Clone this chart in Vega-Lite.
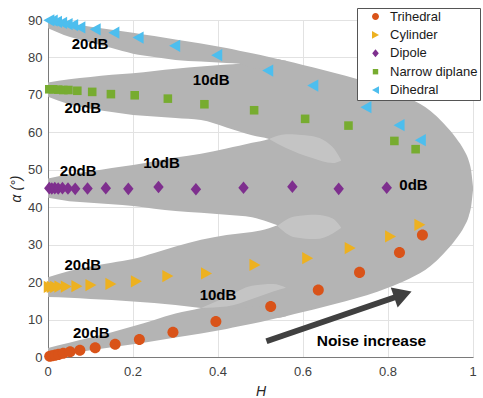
{
  "$schema": "https://vega.github.io/schema/vega-lite/v6.json",
  "width": 425,
  "height": 337,
  "autosize": {"type": "none"},
  "padding": {"left": 48, "top": 20, "right": 10, "bottom": 41},
  "background": "white",
  "config": {
    "font": "Liberation Sans",
    "view": {"stroke": null},
    "axis": {
      "grid": true,
      "gridColor": "#e2e2e2",
      "gridWidth": 1,
      "ticks": false,
      "domainColor": "#7a7a7a",
      "domainWidth": 1,
      "labelColor": "#404040",
      "labelFontSize": 13,
      "labelFont": "Liberation Sans",
      "labelFlush": false,
      "labelOverlap": false,
      "titleFont": "Liberation Sans",
      "titleFontWeight": "normal",
      "titleFontStyle": "italic",
      "titleFontSize": 14,
      "titleColor": "#262626"
    }
  },
  "datasets": {
    "bands": [
      {"H": 0, "lo": 0, "hi": 2.4, "band": "b1"},
      {"H": 0.05, "lo": 0.9, "hi": 3.8, "band": "b1"},
      {"H": 0.1, "lo": 1.8, "hi": 5.2, "band": "b1"},
      {"H": 0.15, "lo": 2.6, "hi": 6.6, "band": "b1"},
      {"H": 0.2, "lo": 3.4, "hi": 8.2, "band": "b1"},
      {"H": 0.25, "lo": 4.3, "hi": 9.9, "band": "b1"},
      {"H": 0.3, "lo": 5.2, "hi": 11.6, "band": "b1"},
      {"H": 0.36, "lo": 6.3, "hi": 13.1, "band": "b1"},
      {"H": 0.42, "lo": 7.5, "hi": 14.8, "band": "b1"},
      {"H": 0.45, "lo": 8.2, "hi": 15.1, "band": "b1"},
      {"H": 0.48, "lo": 8.9, "hi": 15.4, "band": "b1"},
      {"H": 0.52, "lo": 9.9, "hi": 15.8, "band": "b1"},
      {"H": 0.54, "lo": 10.4, "hi": 16.0, "band": "b1"},
      {"H": 0.56, "lo": 10.9, "hi": 16.2, "band": "b1"},
      {"H": 0, "lo": 16.0, "hi": 21.3, "band": "b2"},
      {"H": 0.05, "lo": 15.8, "hi": 23.0, "band": "b2"},
      {"H": 0.1, "lo": 15.5, "hi": 24.2, "band": "b2"},
      {"H": 0.15, "lo": 15.2, "hi": 25.2, "band": "b2"},
      {"H": 0.2, "lo": 14.8, "hi": 26.2, "band": "b2"},
      {"H": 0.25, "lo": 14.4, "hi": 27.8, "band": "b2"},
      {"H": 0.3, "lo": 13.9, "hi": 29.5, "band": "b2"},
      {"H": 0.36, "lo": 13.1, "hi": 31.3, "band": "b2"},
      {"H": 0.42, "lo": 12.8, "hi": 32.6, "band": "b2"},
      {"H": 0.45, "lo": 13.1, "hi": 33.0, "band": "b2"},
      {"H": 0.48, "lo": 13.4, "hi": 33.4, "band": "b2"},
      {"H": 0.52, "lo": 13.8, "hi": 34.4, "band": "b2"},
      {"H": 0.54, "lo": 14.0, "hi": 35.2, "band": "b2"},
      {"H": 0.56, "lo": 14.2, "hi": 36.3, "band": "b2"},
      {"H": 0, "lo": 42.5, "hi": 47.7, "band": "b3"},
      {"H": 0.05, "lo": 41.6, "hi": 48.8, "band": "b3"},
      {"H": 0.1, "lo": 41.2, "hi": 49.6, "band": "b3"},
      {"H": 0.15, "lo": 40.8, "hi": 50.5, "band": "b3"},
      {"H": 0.2, "lo": 40.3, "hi": 51.3, "band": "b3"},
      {"H": 0.25, "lo": 39.6, "hi": 52.3, "band": "b3"},
      {"H": 0.3, "lo": 39.0, "hi": 53.3, "band": "b3"},
      {"H": 0.36, "lo": 38.5, "hi": 54.3, "band": "b3"},
      {"H": 0.42, "lo": 38.0, "hi": 55.7, "band": "b3"},
      {"H": 0.45, "lo": 37.7, "hi": 56.4, "band": "b3"},
      {"H": 0.48, "lo": 37.3, "hi": 57.2, "band": "b3"},
      {"H": 0.52, "lo": 36.0, "hi": 58.2, "band": "b3"},
      {"H": 0.54, "lo": 35.2, "hi": 59.3, "band": "b3"},
      {"H": 0.56, "lo": 34.3, "hi": 59.4, "band": "b3"},
      {"H": 0, "lo": 69.5, "hi": 73.3, "band": "b4"},
      {"H": 0.05, "lo": 67.5, "hi": 74.2, "band": "b4"},
      {"H": 0.1, "lo": 66.3, "hi": 74.8, "band": "b4"},
      {"H": 0.15, "lo": 65.4, "hi": 75.4, "band": "b4"},
      {"H": 0.2, "lo": 64.6, "hi": 75.8, "band": "b4"},
      {"H": 0.25, "lo": 64.2, "hi": 76.4, "band": "b4"},
      {"H": 0.3, "lo": 63.8, "hi": 77.0, "band": "b4"},
      {"H": 0.36, "lo": 63.3, "hi": 77.6, "band": "b4"},
      {"H": 0.42, "lo": 61.3, "hi": 78.1, "band": "b4"},
      {"H": 0.45, "lo": 60.2, "hi": 78.3, "band": "b4"},
      {"H": 0.48, "lo": 59.2, "hi": 79.1, "band": "b4"},
      {"H": 0.52, "lo": 58.2, "hi": 78.9, "band": "b4"},
      {"H": 0.54, "lo": 57.3, "hi": 78.8, "band": "b4"},
      {"H": 0.56, "lo": 57.4, "hi": 78.6, "band": "b4"},
      {"H": 0, "lo": 87.8, "hi": 90, "band": "b5"},
      {"H": 0.05, "lo": 85.5, "hi": 89.1, "band": "b5"},
      {"H": 0.1, "lo": 84.0, "hi": 88.2, "band": "b5"},
      {"H": 0.15, "lo": 82.5, "hi": 87.4, "band": "b5"},
      {"H": 0.2, "lo": 81.0, "hi": 86.6, "band": "b5"},
      {"H": 0.25, "lo": 80.1, "hi": 85.7, "band": "b5"},
      {"H": 0.3, "lo": 79.3, "hi": 84.8, "band": "b5"},
      {"H": 0.36, "lo": 78.9, "hi": 83.7, "band": "b5"},
      {"H": 0.42, "lo": 78.5, "hi": 82.5, "band": "b5"},
      {"H": 0.45, "lo": 78.3, "hi": 81.8, "band": "b5"},
      {"H": 0.48, "lo": 77.1, "hi": 81.1, "band": "b5"},
      {"H": 0.52, "lo": 76.9, "hi": 80.1, "band": "b5"},
      {"H": 0.54, "lo": 76.8, "hi": 79.6, "band": "b5"},
      {"H": 0.56, "lo": 76.6, "hi": 79.1, "band": "b5"},
      {"H": 0.54, "lo": 10.4, "hi": 79.6, "band": "main"},
      {"H": 0.56, "lo": 10.9, "hi": 79.1, "band": "main"},
      {"H": 0.6, "lo": 12.0, "hi": 78.0, "band": "main"},
      {"H": 0.65, "lo": 13.4, "hi": 76.6, "band": "main"},
      {"H": 0.7, "lo": 14.9, "hi": 75.1, "band": "main"},
      {"H": 0.75, "lo": 16.5, "hi": 73.5, "band": "main"},
      {"H": 0.8, "lo": 18.5, "hi": 71.5, "band": "main"},
      {"H": 0.85, "lo": 20.9, "hi": 69.1, "band": "main"},
      {"H": 0.9, "lo": 24.3, "hi": 65.7, "band": "main"},
      {"H": 0.93, "lo": 27.5, "hi": 62.5, "band": "main"},
      {"H": 0.96, "lo": 31.5, "hi": 58.5, "band": "main"},
      {"H": 0.98, "lo": 35.0, "hi": 55.0, "band": "main"},
      {"H": 0.99, "lo": 37.6, "hi": 52.4, "band": "main"},
      {"H": 0.996, "lo": 40.5, "hi": 49.5, "band": "main"},
      {"H": 1.0, "lo": 44.5, "hi": 45.5, "band": "main"}
    ],
    "tails": [
      {"H": 0.36, "lo": 13.1, "hi": 13.1, "band": "tA"},
      {"H": 0.42, "lo": 13.5, "hi": 16.0, "band": "tA"},
      {"H": 0.48, "lo": 15.5, "hi": 19.0, "band": "tA"},
      {"H": 0.53, "lo": 17.5, "hi": 19.5, "band": "tA"},
      {"H": 0.56, "lo": 18.5, "hi": 18.5, "band": "tA"},
      {"H": 0.54, "lo": 35.0, "hi": 35.0, "band": "tB"},
      {"H": 0.58, "lo": 32.0, "hi": 37.5, "band": "tB"},
      {"H": 0.63, "lo": 31.5, "hi": 38.0, "band": "tB"},
      {"H": 0.67, "lo": 33.0, "hi": 37.0, "band": "tB"},
      {"H": 0.69, "lo": 34.5, "hi": 34.5, "band": "tB"},
      {"H": 0.52, "lo": 58.2, "hi": 58.2, "band": "tC"},
      {"H": 0.56, "lo": 55.8, "hi": 59.5, "band": "tC"},
      {"H": 0.62, "lo": 53.2, "hi": 59.0, "band": "tC"},
      {"H": 0.67, "lo": 51.8, "hi": 56.0, "band": "tC"},
      {"H": 0.69, "lo": 52.5, "hi": 52.5, "band": "tC"}
    ],
    "points": [
      {"H": 0.004, "a": 0.2, "type": "Trihedral"},
      {"H": 0.01, "a": 0.35, "type": "Trihedral"},
      {"H": 0.017, "a": 0.5, "type": "Trihedral"},
      {"H": 0.025, "a": 0.7, "type": "Trihedral"},
      {"H": 0.036, "a": 1.0, "type": "Trihedral"},
      {"H": 0.052, "a": 1.4, "type": "Trihedral"},
      {"H": 0.075, "a": 1.8, "type": "Trihedral"},
      {"H": 0.111, "a": 2.5, "type": "Trihedral"},
      {"H": 0.158, "a": 3.4, "type": "Trihedral"},
      {"H": 0.215, "a": 4.7, "type": "Trihedral"},
      {"H": 0.294, "a": 6.6, "type": "Trihedral"},
      {"H": 0.395, "a": 9.5, "type": "Trihedral"},
      {"H": 0.524, "a": 13.5, "type": "Trihedral"},
      {"H": 0.636, "a": 17.9, "type": "Trihedral"},
      {"H": 0.733, "a": 22.6, "type": "Trihedral"},
      {"H": 0.827, "a": 27.9, "type": "Trihedral"},
      {"H": 0.881, "a": 32.6, "type": "Trihedral"},
      {"H": 0.003, "a": 18.7, "type": "Cylinder"},
      {"H": 0.01, "a": 18.7, "type": "Cylinder"},
      {"H": 0.018, "a": 18.7, "type": "Cylinder"},
      {"H": 0.028, "a": 18.8, "type": "Cylinder"},
      {"H": 0.043, "a": 18.8, "type": "Cylinder"},
      {"H": 0.068, "a": 18.9, "type": "Cylinder"},
      {"H": 0.101, "a": 19.2, "type": "Cylinder"},
      {"H": 0.148, "a": 19.5, "type": "Cylinder"},
      {"H": 0.208, "a": 20.2, "type": "Cylinder"},
      {"H": 0.282, "a": 21.6, "type": "Cylinder"},
      {"H": 0.373, "a": 22.3, "type": "Cylinder"},
      {"H": 0.487, "a": 24.6, "type": "Cylinder"},
      {"H": 0.611, "a": 26.4, "type": "Cylinder"},
      {"H": 0.711, "a": 29.1, "type": "Cylinder"},
      {"H": 0.806, "a": 32.2, "type": "Cylinder"},
      {"H": 0.875, "a": 35.3, "type": "Cylinder"},
      {"H": 0.003, "a": 45.1, "type": "Dipole"},
      {"H": 0.009, "a": 45.0, "type": "Dipole"},
      {"H": 0.016, "a": 45.1, "type": "Dipole"},
      {"H": 0.024, "a": 45.0, "type": "Dipole"},
      {"H": 0.034, "a": 45.1, "type": "Dipole"},
      {"H": 0.047, "a": 45.0, "type": "Dipole"},
      {"H": 0.064, "a": 44.9, "type": "Dipole"},
      {"H": 0.093, "a": 45.0, "type": "Dipole"},
      {"H": 0.136, "a": 45.1, "type": "Dipole"},
      {"H": 0.189, "a": 44.9, "type": "Dipole"},
      {"H": 0.26, "a": 45.4, "type": "Dipole"},
      {"H": 0.348, "a": 44.8, "type": "Dipole"},
      {"H": 0.46, "a": 45.2, "type": "Dipole"},
      {"H": 0.575, "a": 45.5, "type": "Dipole"},
      {"H": 0.684, "a": 44.9, "type": "Dipole"},
      {"H": 0.797, "a": 45.2, "type": "Dipole"},
      {"H": 0.003, "a": 71.5, "type": "Narrow diplane"},
      {"H": 0.012, "a": 71.5, "type": "Narrow diplane"},
      {"H": 0.024, "a": 71.4, "type": "Narrow diplane"},
      {"H": 0.036, "a": 71.3, "type": "Narrow diplane"},
      {"H": 0.048, "a": 71.3, "type": "Narrow diplane"},
      {"H": 0.069, "a": 71.1, "type": "Narrow diplane"},
      {"H": 0.104, "a": 70.8, "type": "Narrow diplane"},
      {"H": 0.148, "a": 70.2, "type": "Narrow diplane"},
      {"H": 0.204, "a": 69.9, "type": "Narrow diplane"},
      {"H": 0.282, "a": 69.0, "type": "Narrow diplane"},
      {"H": 0.368, "a": 67.5, "type": "Narrow diplane"},
      {"H": 0.485, "a": 65.9, "type": "Narrow diplane"},
      {"H": 0.605, "a": 63.6, "type": "Narrow diplane"},
      {"H": 0.707, "a": 61.8, "type": "Narrow diplane"},
      {"H": 0.815, "a": 57.7, "type": "Narrow diplane"},
      {"H": 0.865, "a": 55.5, "type": "Narrow diplane"},
      {"H": 0.002, "a": 89.9, "type": "Dihedral"},
      {"H": 0.01, "a": 89.8, "type": "Dihedral"},
      {"H": 0.02, "a": 89.5, "type": "Dihedral"},
      {"H": 0.032, "a": 89.2, "type": "Dihedral"},
      {"H": 0.045, "a": 88.9, "type": "Dihedral"},
      {"H": 0.058, "a": 88.6, "type": "Dihedral"},
      {"H": 0.075, "a": 88.0, "type": "Dihedral"},
      {"H": 0.111, "a": 87.5, "type": "Dihedral"},
      {"H": 0.155, "a": 86.6, "type": "Dihedral"},
      {"H": 0.212, "a": 85.3, "type": "Dihedral"},
      {"H": 0.298, "a": 83.1, "type": "Dihedral"},
      {"H": 0.397, "a": 80.6, "type": "Dihedral"},
      {"H": 0.517, "a": 76.5, "type": "Dihedral"},
      {"H": 0.623, "a": 72.5, "type": "Dihedral"},
      {"H": 0.748, "a": 66.7, "type": "Dihedral"},
      {"H": 0.826, "a": 61.9, "type": "Dihedral"},
      {"H": 0.876, "a": 57.9, "type": "Dihedral"}
    ],
    "labels": [
      {"H": 0.099, "a": 83.6, "label": "20dB"},
      {"H": 0.384, "a": 74.0, "label": "10dB"},
      {"H": 0.082, "a": 66.4, "label": "20dB"},
      {"H": 0.071, "a": 49.7, "label": "20dB"},
      {"H": 0.267, "a": 51.9, "label": "10dB"},
      {"H": 0.86, "a": 46.0, "label": "0dB"},
      {"H": 0.082, "a": 24.6, "label": "20dB"},
      {"H": 0.4, "a": 16.5, "label": "10dB"},
      {"H": 0.102, "a": 6.3, "label": "20dB"}
    ],
    "note": [
      {"H": 0.761, "a": 4.2, "label": "Noise increase"}
    ],
    "xticks": [
      {"H": 0, "label": "0"},
      {"H": 0.2, "label": "0.2"},
      {"H": 0.4, "label": "0.4"},
      {"H": 0.6, "label": "0.6"},
      {"H": 0.8, "label": "0.8"},
      {"H": 1, "label": "1"}
    ],
    "arrow": [
      {"H1": 0.514, "a1": 4.2, "H2": 0.82, "a2": 16.1}
    ],
    "head": [
      {"H": 0.835, "a": 16.7}
    ]
  },
  "layer": [
    {
      "data": {"name": "bands"},
      "mark": {"type": "area", "color": "#b4b4b4", "opacity": 1, "interpolate": "monotone"},
      "encoding": {
        "x": {
          "field": "H", "type": "quantitative",
          "scale": {"domain": [0, 1], "nice": false, "zero": false},
          "axis": {
            "title": "H",
            "tickCount": 5,
            "labels": false,
            "titleY": 34,
            "titleBaseline": "middle"
          }
        },
        "y": {
          "field": "lo", "type": "quantitative",
          "scale": {"domain": [0, 90], "nice": false, "zero": false},
          "axis": {
            "title": "α (°)",
            "tickCount": 9,
            "labelOverlap": false,
            "labelPadding": 6,
            "titleX": -32,
            "titleY": 168.5,
            "titleBaseline": "middle",
            "titleAlign": "center",
            "titleAngle": 270
          }
        },
        "y2": {"field": "hi"},
        "detail": {"field": "band", "type": "nominal"}
      }
    },
    {
      "data": {"name": "tails"},
      "mark": {"type": "area", "color": "white", "opacity": 0.22, "interpolate": "monotone"},
      "encoding": {
        "x": {"field": "H", "type": "quantitative"},
        "y": {"field": "lo", "type": "quantitative"},
        "y2": {"field": "hi"},
        "detail": {"field": "band", "type": "nominal"}
      }
    },
    {
      "data": {"name": "xticks"},
      "mark": {"type": "text", "font": "Liberation Sans", "fontSize": 13, "color": "#404040", "align": "center", "baseline": "middle", "dy": 15},
      "encoding": {
        "x": {"field": "H", "type": "quantitative"},
        "y": {"datum": 0, "type": "quantitative"},
        "text": {"field": "label"}
      }
    },
    {
      "data": {"name": "points"},
      "mark": {"type": "point", "filled": true, "opacity": 1, "strokeWidth": 0, "size": 150},
      "encoding": {
        "x": {"field": "H", "type": "quantitative"},
        "y": {"field": "a", "type": "quantitative"},
        "color": {
          "field": "type", "type": "nominal",
          "scale": {
            "domain": ["Trihedral", "Cylinder", "Dipole", "Narrow diplane", "Dihedral"],
            "range": ["#D95319", "#EDB120", "#7E2F8E", "#77AC30", "#4DBEEE"]
          },
          "legend": {
            "title": null,
            "orient": "none",
            "legendX": 309,
            "legendY": -12,
            "padding": 2,
            "symbolOffset": 10,
            "labelOffset": 8,
            "rowPadding": 4.4,
            "labelFontSize": 13,
            "labelFont": "Liberation Sans",
            "labelColor": "#1a1a1a",
            "symbolSize": 60,
            "symbolStrokeWidth": 0,
            "fillColor": "white",
            "strokeColor": "#555555"
          }
        },
        "shape": {
          "field": "type", "type": "nominal",
          "scale": {
            "domain": ["Trihedral", "Cylinder", "Dipole", "Narrow diplane", "Dihedral"],
            "range": [
              "M0.9,0A0.9,0.9,0,1,1,-0.9,0A0.9,0.9,0,1,1,0.9,0Z",
              "M0.9,0L-0.9,-1L-0.9,1Z",
              "M-0.85,0L0,-1.03L0.85,0L0,1.03Z",
              "M-0.7,-0.7L0.7,-0.7L0.7,0.7L-0.7,0.7Z",
              "M-0.9,0L0.9,-1L0.9,1Z"
            ]
          }
        },
        "order": {"field": "H", "type": "quantitative"}
      }
    },
    {
      "data": {"name": "labels"},
      "mark": {"type": "text", "font": "Liberation Sans", "fontSize": 15, "fontWeight": "bold", "align": "center", "baseline": "middle", "color": "#000000"},
      "encoding": {
        "x": {"field": "H", "type": "quantitative"},
        "y": {"field": "a", "type": "quantitative"},
        "text": {"field": "label"}
      }
    },
    {
      "data": {"name": "note"},
      "mark": {"type": "text", "font": "Liberation Sans", "fontSize": 15.5, "fontWeight": "bold", "align": "center", "baseline": "middle", "color": "#000000"},
      "encoding": {
        "x": {"field": "H", "type": "quantitative"},
        "y": {"field": "a", "type": "quantitative"},
        "text": {"field": "label"}
      }
    },
    {
      "data": {"name": "arrow"},
      "mark": {"type": "rule", "color": "#404040", "strokeWidth": 6},
      "encoding": {
        "x": {"field": "H1", "type": "quantitative"},
        "y": {"field": "a1", "type": "quantitative"},
        "x2": {"field": "H2"},
        "y2": {"field": "a2"}
      }
    },
    {
      "data": {"name": "head"},
      "mark": {"type": "point", "shape": "triangle-up", "filled": true, "color": "#404040", "opacity": 1, "size": 450, "angle": 71, "strokeWidth": 0},
      "encoding": {
        "x": {"field": "H", "type": "quantitative"},
        "y": {"field": "a", "type": "quantitative"}
      }
    }
  ]
}
